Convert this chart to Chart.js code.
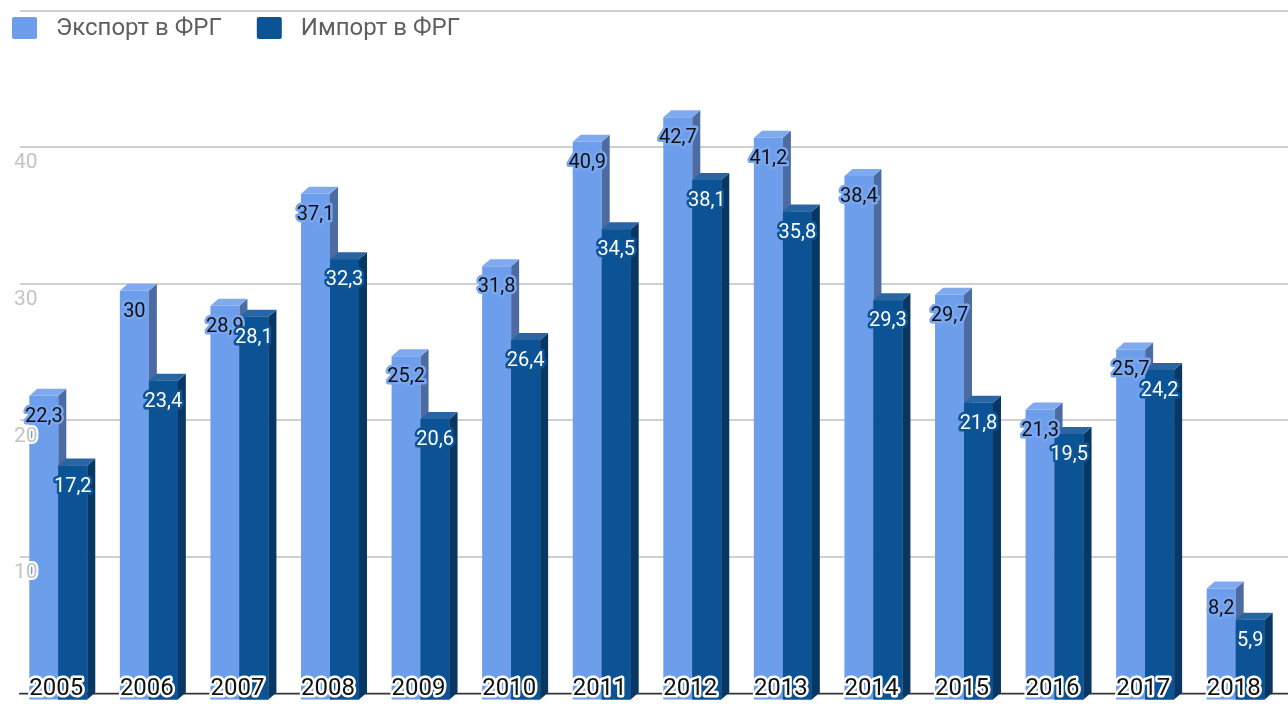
<!DOCTYPE html>
<html>
<head>
<meta charset="utf-8">
<script src="https://cdn.jsdelivr.net/npm/chart.js@4.4.1/dist/chart.umd.min.js"></script>
<style>
  body { margin: 0; background: #fff; }
  #wrap { width: 1288px; height: 704px; }
</style>
</head>
<body>
<div id="wrap"><canvas id="chart" width="1288" height="704"></canvas></div>
<script>
// chart data
const years = ["2005", "2006", "2007", "2008", "2009", "2010", "2011", "2012", "2013", "2014", "2015", "2016", "2017", "2018"];
const exportValues = [22.3, 30, 28.9, 37.1, 25.2, 31.8, 40.9, 42.7, 41.2, 38.4, 29.7, 21.3, 25.7, 8.2];
const importValues = [17.2, 23.4, 28.1, 32.3, 20.6, 26.4, 34.5, 38.1, 35.8, 29.3, 21.8, 19.5, 24.2, 5.9];
const yTickLabels = [10, 20, 30, 40];

// 3d look
const DX = 8, DY = 7, SHIFT_X = -7;
const faces = [
  { side: "#4b6ba2", top: "#80aaf0", halo: "#78a6f0", text: "#111" },
  { side: "#083764", top: "#2a65a3", halo: "#0d5597", text: "#fff" }
];

function fmt(v) {
  return String(v).replace(".", ",");
}

function drawFaces(ctx, bar, col) {
  const l = bar.x - bar.width / 2, r = bar.x + bar.width / 2;
  // side
  ctx.fillStyle = col.side;
  ctx.beginPath();
  ctx.moveTo(r, bar.y);
  ctx.lineTo(r + DX, bar.y - DY);
  ctx.lineTo(r + DX, bar.base - DY);
  ctx.lineTo(r, bar.base);
  ctx.closePath();
  ctx.fill();
  // top
  ctx.fillStyle = col.top;
  ctx.beginPath();
  ctx.moveTo(l, bar.y);
  ctx.lineTo(l + DX, bar.y - DY);
  ctx.lineTo(r + DX, bar.y - DY);
  ctx.lineTo(r, bar.y);
  ctx.closePath();
  ctx.fill();
}

function haloText(ctx, text, x, y, fill, halo, w) {
  ctx.lineJoin = "round";
  ctx.lineWidth = w;
  ctx.strokeStyle = halo;
  ctx.strokeText(text, x, y);
  ctx.fillStyle = fill;
  ctx.fillText(text, x, y);
}

const bars3d = {
  id: "bars3d",
  beforeDatasetsDraw(chart) {
    chart.ctx.save();
    chart.ctx.translate(SHIFT_X, DY);
  },
  afterDatasetsDraw(chart) {
    const ctx = chart.ctx;
    const expMeta = chart.getDatasetMeta(0);
    const impMeta = chart.getDatasetMeta(1);
    expMeta.data.forEach(b => drawFaces(ctx, b, faces[0]));
    impMeta.data.forEach(b => {
      b.draw(ctx);
      drawFaces(ctx, b, faces[1]);
    });
    ctx.restore();

    // value labels
    ctx.save();
    ctx.font = "20px Roboto";
    ctx.textAlign = "center";
    ctx.textBaseline = "middle";
    [expMeta, impMeta].forEach((meta, di) => {
      const vals = chart.data.datasets[di].data;
      meta.data.forEach((b, i) => {
        haloText(ctx, fmt(vals[i]), b.x + SHIFT_X, b.y + 28, faces[di].text, faces[di].halo, 5);
      });
    });

    // year labels inside the bars
    const xs = chart.scales.x;
    ctx.font = "24px Roboto";
    chart.data.labels.forEach((lab, i) => {
      haloText(ctx, lab, xs.getPixelForValue(i) + SHIFT_X - 2, 689, "#111", "#fff", 5);
    });
    ctx.restore();
  },
  afterDraw(chart) {
    const ctx = chart.ctx;
    ctx.save();
    ctx.font = "24px Roboto";
    ctx.textBaseline = "middle";
    let x = 12;
    chart.data.datasets.forEach(ds => {
      ctx.fillStyle = ds.backgroundColor;
      ctx.beginPath();
      ctx.roundRect(x, 17, 25, 22, 2);
      ctx.fill();
      ctx.fillStyle = "#5f5f5f";
      ctx.fillText(ds.label, x + 44, 29);
      x += 44 + ctx.measureText(ds.label).width + 35;
    });
    ctx.restore();
  }
};

new Chart(document.getElementById("chart"), {
  type: "bar",
  data: {
    labels: years,
    datasets: [
      { label: "Экспорт в ФРГ", data: exportValues, backgroundColor: "#6d9eeb" },
      { label: "Импорт в ФРГ", data: importValues, backgroundColor: "#0b5394" }
    ]
  },
  options: {
    responsive: false,
    animation: false,
    layout: { padding: { left: 20, top: 8, right: 0, bottom: 1 } },
    datasets: { bar: { categoryPercentage: 0.64, barPercentage: 1, borderWidth: 0 } },
    plugins: { legend: { display: false }, tooltip: { enabled: false } },
    scales: {
      x: {
        grid: { display: false, drawTicks: false },
        ticks: { display: false },
        border: { color: "#333", width: 1.5 }
      },
      y: {
        min: 0, max: 50,
        ticks: { display: false, stepSize: 10 },
        grid: { color: "#d0d0d0", lineWidth: 2, drawTicks: false },
        border: { display: false }
      },
      yl: {
        position: "left",
        min: 0, max: 50,
        grid: { display: false, drawTicks: false },
        border: { display: false },
        ticks: {
          z: 1,
          stepSize: 10,
          mirror: true,
          padding: -2,
          labelOffset: 16,
          color: "#c4c4c4",
          font: { family: "Roboto", size: 21 },
          textStrokeColor: "#fff",
          textStrokeWidth: 4,
          callback: v => yTickLabels.includes(v) ? String(v) : ""
        }
      }
    }
  },
  plugins: [bars3d]
});
</script>
</body>
</html>
